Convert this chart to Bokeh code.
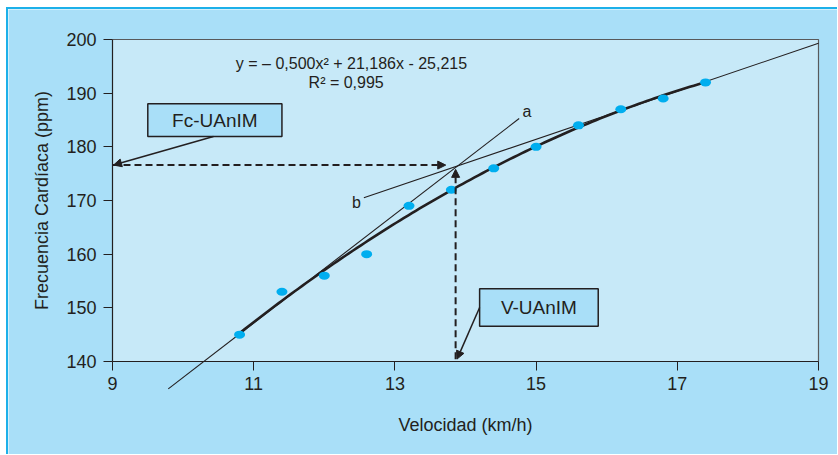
import numpy as np
from bokeh.plotting import figure
from bokeh.models import Range1d, FixedTicker, Arrow, NormalHead
from bokeh.core.properties import value
from bokeh.embed import file_html
from bokeh.resources import INLINE

# ---------------- data ----------------
velocidad = [10.8, 11.4, 12.0, 12.6, 13.2, 13.8, 14.4, 15.0, 15.6, 16.2, 16.8, 17.4]
frecuencia = [145, 153, 156, 160, 169, 172, 176, 180, 184, 187, 189, 192]
fit_coef = [-0.500, 21.186, -25.215]   # y = a x^2 + b x + c
r2 = 0.995
line_a_x = [9.79, 14.76]
line_a_y = [134.9, 185.27]
line_b_x = [12.56, 19.0]
line_b_y = [170.5, 199.3]
v_uanim = 13.86
fc_uanim = 176.6
x_ticks = [9, 11, 13, 15, 17, 19]
y_ticks = [140, 150, 160, 170, 180, 190, 200]
x_lim = [9, 19]
y_lim = [140, 200]

# annotation geometry (data units)
fc_box = [9.50, 11.40, 181.93, 188.02]      # left, right, bottom, top
v_box = [14.20, 15.88, 146.58, 153.55]
fc_arrow = [10.43, 181.93, 9.015, fc_uanim]
v_arrow = [14.20, 150.06, 13.88, 140.45]

OUTER = "#a9dff8"
INNER = "#c7e9f8"
CYAN = "#00aeef"
DARK = "#231f20"
GREY = "#58595b"
FONT = value("Liberation Sans")

# layout: the frame covers the whole canvas so that axes sit at fixed data
# locations and line "a" may run past the x axis, as in the original.
FW, FH = 829, 445                 # canvas / frame size (px)
PLOT_W, PLOT_H = 706, 322         # size of the 9..19 x 140..200 plot area (px)
OFF_L, OFF_T = 104, 30            # plot area offset inside the canvas (px)
sx = PLOT_W / (x_lim[1] - x_lim[0])
sy = PLOT_H / (y_lim[1] - y_lim[0])
x0 = x_lim[0] - OFF_L / sx
y1 = y_lim[1] + OFF_T / sy

p = figure(frame_width=FW, frame_height=FH,
           x_range=Range1d(x0, x0 + FW / sx), y_range=Range1d(y1 - FH / sy, y1),
           output_backend="svg", toolbar_location=None,
           min_border_left=0, min_border_right=0, min_border_top=0, min_border_bottom=0,
           background_fill_color=OUTER, border_fill_color=OUTER)
p.styles = {"border-top": "2px solid #1cb0e9", "border-left": "2px solid #1cb0e9",
            "margin-top": "7px", "margin-left": "6px"}
p.outline_line_color = None
p.grid.visible = False

# plot area background + top/right frame lines
p.quad(left=[x_lim[0]], right=[x_lim[1]], bottom=[y_lim[0]], top=[y_lim[1]],
       fill_color=INNER, line_color=None)
p.line([x_lim[0], x_lim[1], x_lim[1]], [y_lim[1], y_lim[1], y_lim[0]],
       line_color=GREY, line_width=1.2)

# axes
for ax in (p.xaxis, p.yaxis):
    ax.axis_line_color = DARK
    ax.axis_line_width = 1.2
    ax.major_tick_line_color = DARK
    ax.major_tick_out = 9
    ax.major_tick_in = 0
    ax.minor_tick_line_color = None
    ax.major_label_text_font = "Liberation Sans"
    ax.major_label_text_font_size = "18px"
    ax.major_label_text_color = DARK
    ax.axis_label_text_font = "Liberation Sans"
    ax.axis_label_text_font_size = "18px"
    ax.axis_label_text_font_style = "normal"
    ax.axis_label_text_color = DARK

p.xaxis.fixed_location = y_lim[0]
p.xaxis.bounds = (x_lim[0], x_lim[1])
p.xaxis.ticker = FixedTicker(ticks=x_ticks)
p.xaxis.major_label_standoff = 6
p.xaxis.axis_label = "Velocidad (km/h)"
p.xaxis.axis_label_standoff = 22

p.yaxis.fixed_location = x_lim[0]
p.yaxis.bounds = (y_lim[0], y_lim[1])
p.yaxis.ticker = FixedTicker(ticks=y_ticks)
p.yaxis.major_label_standoff = 7
p.yaxis.axis_label = "Frecuencia Cardíaca (ppm)"
p.yaxis.axis_label_standoff = 11

# tangent lines a and b
p.line(line_a_x, line_a_y, line_color=DARK, line_width=1.1)
p.line(line_b_x, line_b_y, line_color=DARK, line_width=1.1)

# fitted curve
a, b, c = fit_coef
xs = np.linspace(min(velocidad), max(velocidad), 120)
p.line(xs, a * xs**2 + b * xs + c, line_color=DARK, line_width=2.6)

# data points
p.ellipse(x=velocidad, y=frecuencia, width=11, height=8,
          width_units="screen", height_units="screen",
          fill_color=CYAN, line_color=None)

# dashed guide arrows
p.add_layout(Arrow(end=NormalHead(size=8, fill_color=DARK, line_color=DARK),
                   x_start=x_lim[0], y_start=fc_uanim, x_end=13.72, y_end=fc_uanim,
                   line_color=DARK, line_width=2, line_dash="7 4"))
p.add_layout(Arrow(end=NormalHead(size=8, fill_color=DARK, line_color=DARK),
                   x_start=v_uanim, y_start=y_lim[0] + 0.4, x_end=v_uanim, y_end=175.8,
                   line_color=DARK, line_width=2, line_dash="7 4"))

# annotation arrows
p.add_layout(Arrow(end=NormalHead(size=8, fill_color=DARK, line_color=DARK),
                   x_start=fc_arrow[0], y_start=fc_arrow[1], x_end=fc_arrow[2], y_end=fc_arrow[3],
                   line_color=DARK, line_width=1.5))
p.add_layout(Arrow(end=NormalHead(size=8, fill_color=DARK, line_color=DARK),
                   x_start=v_arrow[0], y_start=v_arrow[1], x_end=v_arrow[2], y_end=v_arrow[3],
                   line_color=DARK, line_width=1.5))

# boxes
for bx in (fc_box, v_box):
    p.quad(left=[bx[0]], right=[bx[1]], bottom=[bx[2]], top=[bx[3]],
           fill_color=OUTER, line_color=DARK, line_width=1.5)
p.text(x=[(fc_box[0] + fc_box[1]) / 2, (v_box[0] + v_box[1]) / 2],
       y=[(fc_box[2] + fc_box[3]) / 2, (v_box[2] + v_box[3]) / 2],
       text=["Fc-UAnIM", "V-UAnIM"], text_align="center", text_baseline="middle",
       text_font=FONT, text_font_size="19px", text_color=DARK)

# equation
eq = f"y = – {abs(a):.3f}x² + {b:.3f}x - {abs(c):.3f}".replace(".", ",")
r2txt = f"R² = {r2:.3f}".replace(".", ",")
p.text(x=[12.385, 12.31], y=[195.58, 191.93], text=[eq, r2txt],
       text_align="center", text_baseline="middle",
       text_font=FONT, text_font_size="16px", text_color=DARK)

# line labels
p.text(x=[14.87, 12.456], y=[186.58, 169.7], text=["a", "b"],
       text_align="center", text_baseline="middle",
       text_font=FONT, text_font_size="16px", text_color=DARK)

open("out.html", "w").write(file_html(p, INLINE))
